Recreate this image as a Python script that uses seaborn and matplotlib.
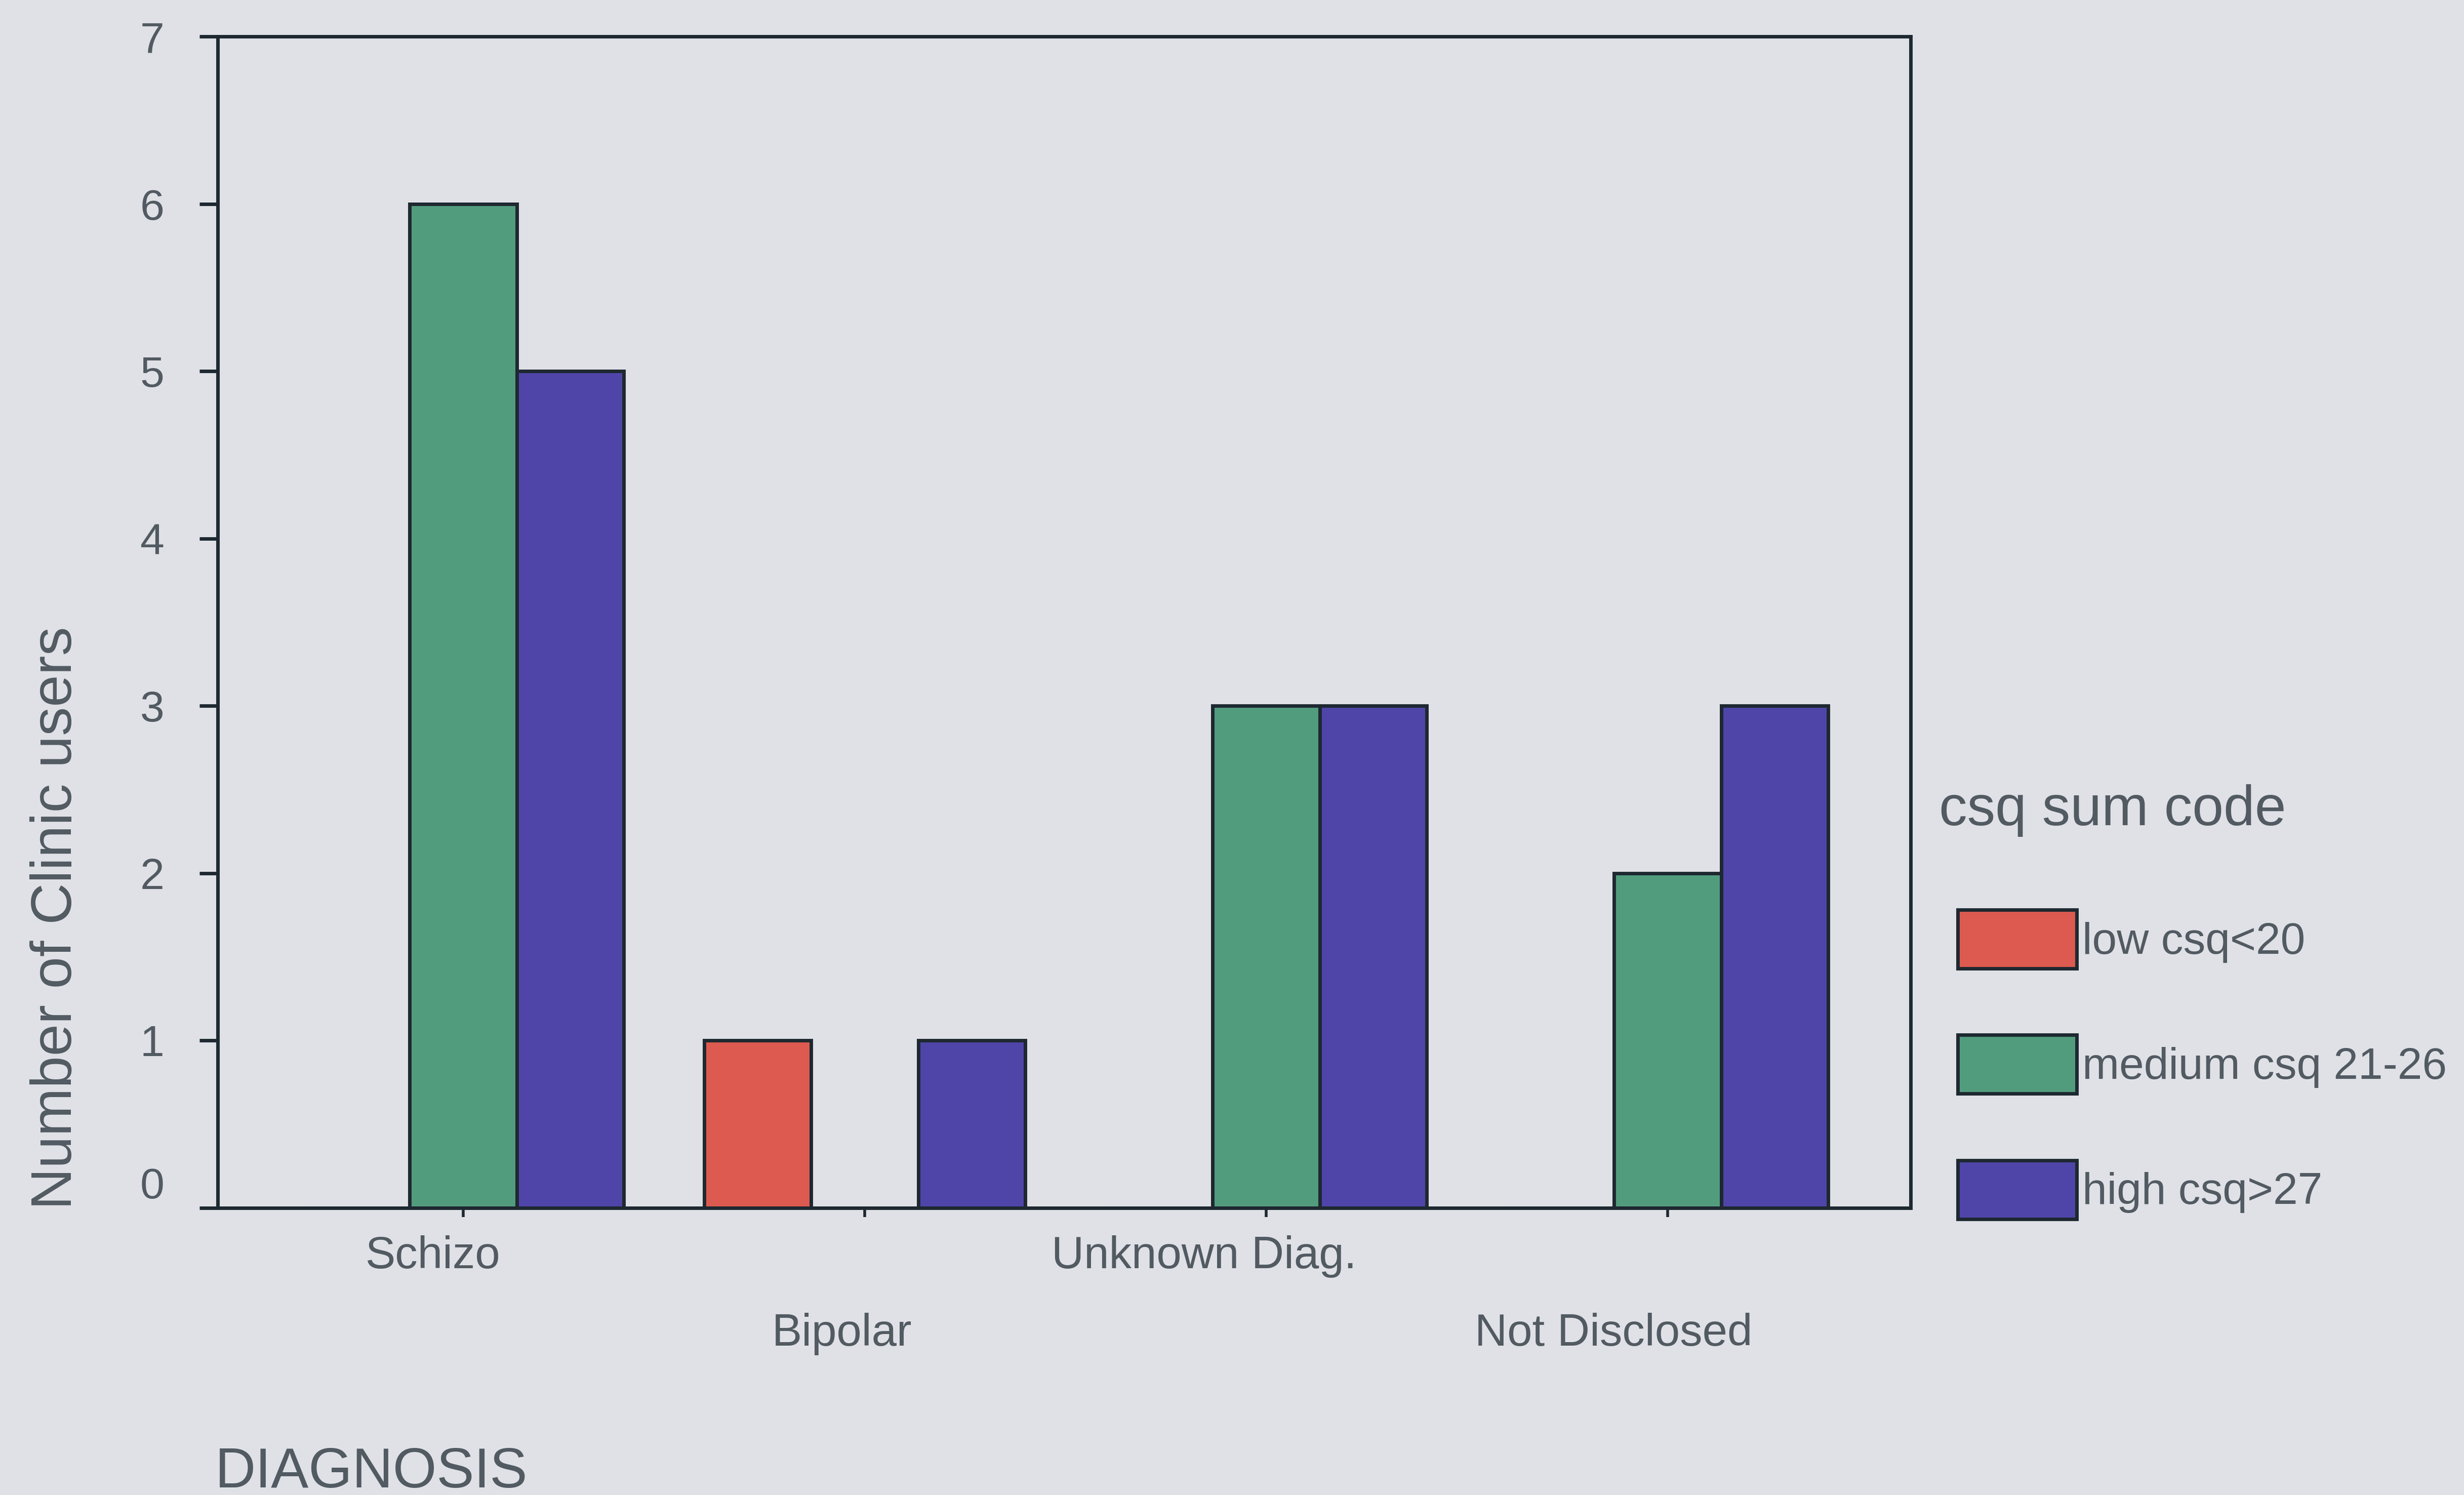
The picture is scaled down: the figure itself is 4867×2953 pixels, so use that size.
import matplotlib
matplotlib.use("Agg")
import matplotlib.pyplot as plt
import matplotlib.transforms as mtransforms
from matplotlib.patches import Patch
import pandas as pd
import seaborn as sns

# ---- data -------------------------------------------------------------
diagnoses = ["Schizo", "Bipolar", "Unknown Diag.", "Not Disclosed"]
csq_levels = ["low csq<20", "medium csq 21-26", "high csq>27"]
low_counts = [0, 1, 0, 0]
medium_counts = [6, 0, 3, 2]
high_counts = [5, 1, 3, 3]
y_ticks = [0, 1, 2, 3, 4, 5, 6, 7]

# ---- style ------------------------------------------------------------
level_colors = ["#dc5a50", "#529c7e", "#4f45a9"]
BG = "#dfe1e6"
INK = "#525a62"
EDGE = "#1e2830"
# horizontal nudge (pixels) of each staggered category label
label_nudge_px = [-60, -45, -123, -107]

df = pd.DataFrame({
    "DIAGNOSIS": diagnoses * len(csq_levels),
    "csq sum code": [lvl for lvl in csq_levels for _ in diagnoses],
    "count": low_counts + medium_counts + high_counts,
})

sns.set_theme(style="ticks")
plt.rcParams["font.family"] = ["Liberation Sans", "DejaVu Sans"]

W, H, DPI = 4867, 2953, 200
fig = plt.figure(figsize=(W / DPI, H / DPI), dpi=DPI, facecolor=BG)
ax = fig.add_axes([430 / W, 1 - 2386 / H, (3774 - 430) / W, (2386 - 72) / H])
ax.set_facecolor(BG)

sns.barplot(
    data=df, x="DIAGNOSIS", y="count", hue="csq sum code",
    order=diagnoses, hue_order=csq_levels, palette=level_colors,
    width=0.8, saturation=1, edgecolor=EDGE, linewidth=2.5,
    errorbar=None, legend=False, ax=ax,
)

ax.set_xlim(-0.6116, 3.605)
ax.set_ylim(0, 7)
ax.set_yticks(y_ticks)
ax.set_xlabel("")
ax.set_ylabel("Number of Clinic users", fontsize=41, color=INK)
ax.yaxis.set_label_coords(-0.0795, 0.2476)

for side in ["left", "right", "top", "bottom"]:
    ax.spines[side].set_visible(True)
    ax.spines[side].set_color(EDGE)
    ax.spines[side].set_linewidth(2.5)

ax.tick_params(axis="y", direction="out", length=13, width=2.5, color=EDGE,
               labelsize=31, labelcolor=INK, pad=25)
ax.tick_params(axis="x", direction="out", length=6.5, width=2, color=EDGE,
               labelsize=32, labelcolor=INK)

# staggered category labels: alternate rows below the axis
for i, tick in enumerate(ax.xaxis.get_major_ticks()):
    tick.set_pad(13 if i % 2 == 0 else 68)
    nudge = mtransforms.ScaledTranslation(label_nudge_px[i] / DPI, 0,
                                          fig.dpi_scale_trans)
    tick.label1.set_transform(tick.label1.get_transform() + nudge)

# lift the "0" label clear of the baseline
zero_tick = ax.yaxis.get_major_ticks()[0]
lift = mtransforms.ScaledTranslation(0, 50 / DPI, fig.dpi_scale_trans)
zero_tick.label1.set_transform(zero_tick.label1.get_transform() + lift)

fig.text(425 / W, (H - 2938) / H, "DIAGNOSIS", fontsize=40, color=INK,
         ha="left", va="baseline")

# legend
fig.text(3830 / W, (H - 1630) / H, "csq sum code", fontsize=40, color=INK,
         ha="left", va="baseline")
handles = [Patch(facecolor=c, edgecolor=EDGE, linewidth=2.5) for c in level_colors]
fig.legend(handles, csq_levels, loc="upper left",
           bbox_to_anchor=(3867 / W, 1 - 1797 / H), bbox_transform=fig.transFigure,
           frameon=False, fontsize=31.5, labelcolor=INK,
           handlelength=2.686, handleheight=1.663, labelspacing=1.5,
           handletextpad=0.12, borderpad=0, borderaxespad=0)

fig.savefig("out.png", dpi=DPI, facecolor=BG)
